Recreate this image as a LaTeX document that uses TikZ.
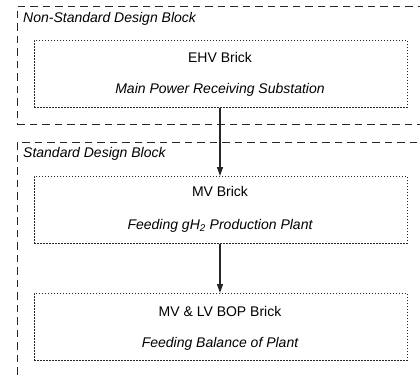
\documentclass[tikz,border=0pt]{standalone}
\usepackage{fontspec}
\setmainfont{Liberation Sans}
\usetikzlibrary{arrows.meta}
\begin{document}
\begin{tikzpicture}[x=1pt,y=-1pt,
  block/.style={draw=black!85,line width=0.9pt,dash pattern=on 7.5pt off 5pt,inner sep=0pt,anchor=north west},
  brick/.style={draw=black!85,line width=0.6pt,dash pattern=on 1.8pt off 1.2pt,inner sep=0pt,minimum width=373pt,minimum height=67pt,anchor=north west},
  blabel/.style={font=\fontsize{14}{16}\selectfont\itshape,anchor=west,inner sep=0pt},
  title/.style={font=\fontsize{14}{16}\selectfont,inner sep=0pt},
  sub/.style={font=\fontsize{14}{16}\selectfont\itshape,inner sep=0pt},
  flow/.style={line width=1.4pt,draw=black!85,-{Triangle[length=9pt,width=6pt]}}]
\useasboundingbox (0,0) rectangle (420,376);
\node[block,minimum width=420pt,minimum height=118pt] (nsd) at (17,6) {};
\node[block,minimum width=420pt,minimum height=260pt] (sd) at (17,142) {};
\node[blabel] (nsdl) at (23,19) {Non-Standard Design Block};
\node[blabel] (sdl) at (23,154) {Standard Design Block};
\node[brick] (b1) at (34,40) {};
\node[brick] (b2) at (34,176) {};
\node[brick] (b3) at (34,293) {};
\node[title] (t1) at (220,57) {EHV Brick};
\node[sub] (s1) at (220,90) {Main Power Receiving Substation};
\node[title] (t2) at (220,191) {MV Brick};
\node[sub] (s2) at (220,226) {Feeding gH\textsubscript{2} Production Plant};
\node[title] (t3) at (220,311) {MV \& LV BOP Brick};
\node[sub] (s3) at (220,344) {Feeding Balance of Plant};
\draw[flow] (b1.south -| t1) -- (b2.north -| t1);
\draw[flow] (b2.south -| t1) -- (b3.north -| t1);
\end{tikzpicture}
\end{document}
